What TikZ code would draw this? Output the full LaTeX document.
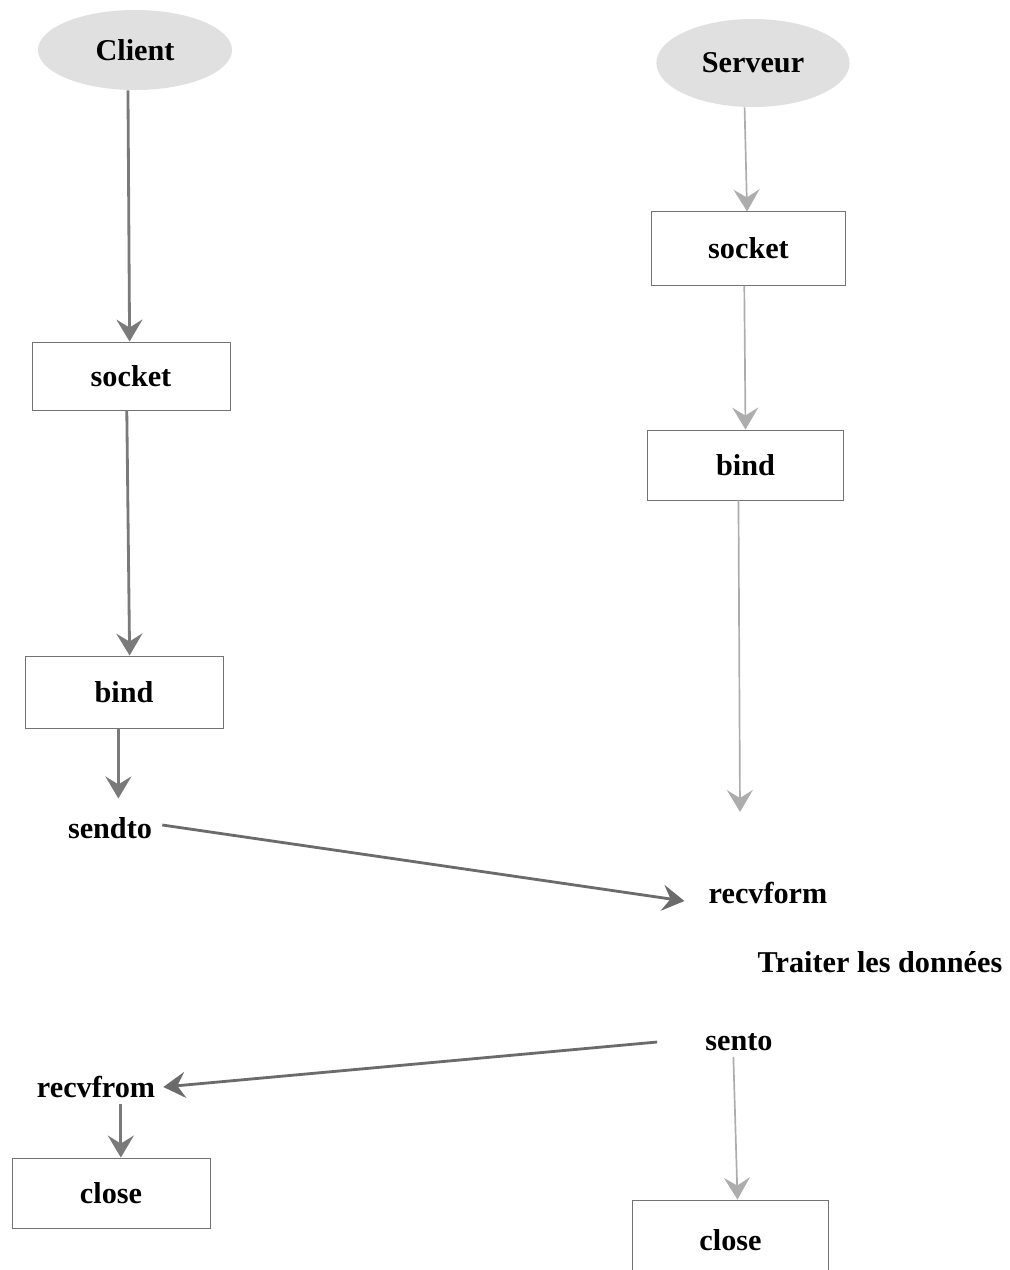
\documentclass[tikz,border=0pt]{standalone}
\usepackage{fontspec}
\setmainfont{Liberation Serif}
\usetikzlibrary{shapes.geometric,arrows.meta}

\tikzset{
  lbl/.style={font=\fontsize{21.5}{24}\selectfont\bfseries, inner sep=0pt},
  actor/.style={ellipse, fill=black!12, lbl},
  callbox/.style={rectangle, draw=black!55, line width=0.6pt, lbl},
  flow/.style={draw=black!52, line width=2pt,
    -{Stealth[length=0.55cm, width=0.65cm, inset=0.2cm]}},
  flowlight/.style={flow, draw=black!32, line width=1.2pt},
}

\begin{document}
\begin{tikzpicture}[x=0.025cm, y=-0.025cm]
  \useasboundingbox (0,0) rectangle (1010,1270);
  \clip (0,0) rectangle (1010,1270);

  % client side
  \node[actor, minimum width=4.85cm, minimum height=2cm] (client) at (135,50) {Client};
  \node[callbox, minimum width=4.95cm, minimum height=1.7cm] (csock) at (131,376) {socket};
  \node[callbox, minimum width=4.95cm, minimum height=1.8cm] (cbind) at (124,692) {bind};
  \node[lbl] (sendto) at (110,828) {sendto};
  \node[lbl] (recvfrom) at (96,1087) {recvfrom};
  \node[callbox, minimum width=4.95cm, minimum height=1.75cm] (cclose) at (111,1193) {close};

  % server side
  \node[actor, minimum width=4.83cm, minimum height=2.2cm] (server) at (753,63) {Serveur};
  \node[callbox, minimum width=4.83cm, minimum height=1.83cm] (ssock) at (748.5,248.5) {socket};
  \node[callbox, minimum width=4.88cm, minimum height=1.75cm] (sbind) at (745.5,465) {bind};
  \coordinate (swait) at (740,812);
  \node[lbl] (recvform) at (768,893) {recvform};
  \node[lbl] (traiter) at (880,962) {Traiter les données};
  \node[lbl] (sento) at (739,1042) {sento};
  \node[callbox, minimum width=4.88cm, minimum height=2cm, text depth=0pt] (sclose) at (730.5,1240) {close};

  % client flow, straight down from box to box
  \draw[flow] ([xshift=-5]client.south) -- ([xshift=-1]csock.north);
  \draw[flow] ([xshift=-3]csock.south) -- ([xshift=4]cbind.north);
  \draw[flow] ([xshift=-4]cbind.south) -- ++(0,70);
  \draw[flow] ([xshift=7]cclose.north |- recvfrom.south) ++(0,6) -- ([xshift=7]cclose.north);

  % server flow
  \draw[flowlight] ([xshift=-6]server.south) -- ([xshift=-1]ssock.north);
  \draw[flowlight] ([xshift=-3]ssock.south) -- (sbind.north);
  \draw[flowlight] ([xshift=-5]sbind.south) -- (swait);
  \draw[flowlight] ([xshift=-4]sento.south) ++(0,6) -- ([xshift=5]sclose.north);

  % messages between the two sides
  \draw[flow, draw=black!58] (sendto.east) ++(10,-3) -- ([xshift=-0.6cm,yshift=-0.2cm]recvform.west);
  \draw[flow, draw=black!58] ([xshift=-1.2cm]sento.west) -- ([xshift=0.2cm]recvfrom.east);
\end{tikzpicture}
\end{document}
